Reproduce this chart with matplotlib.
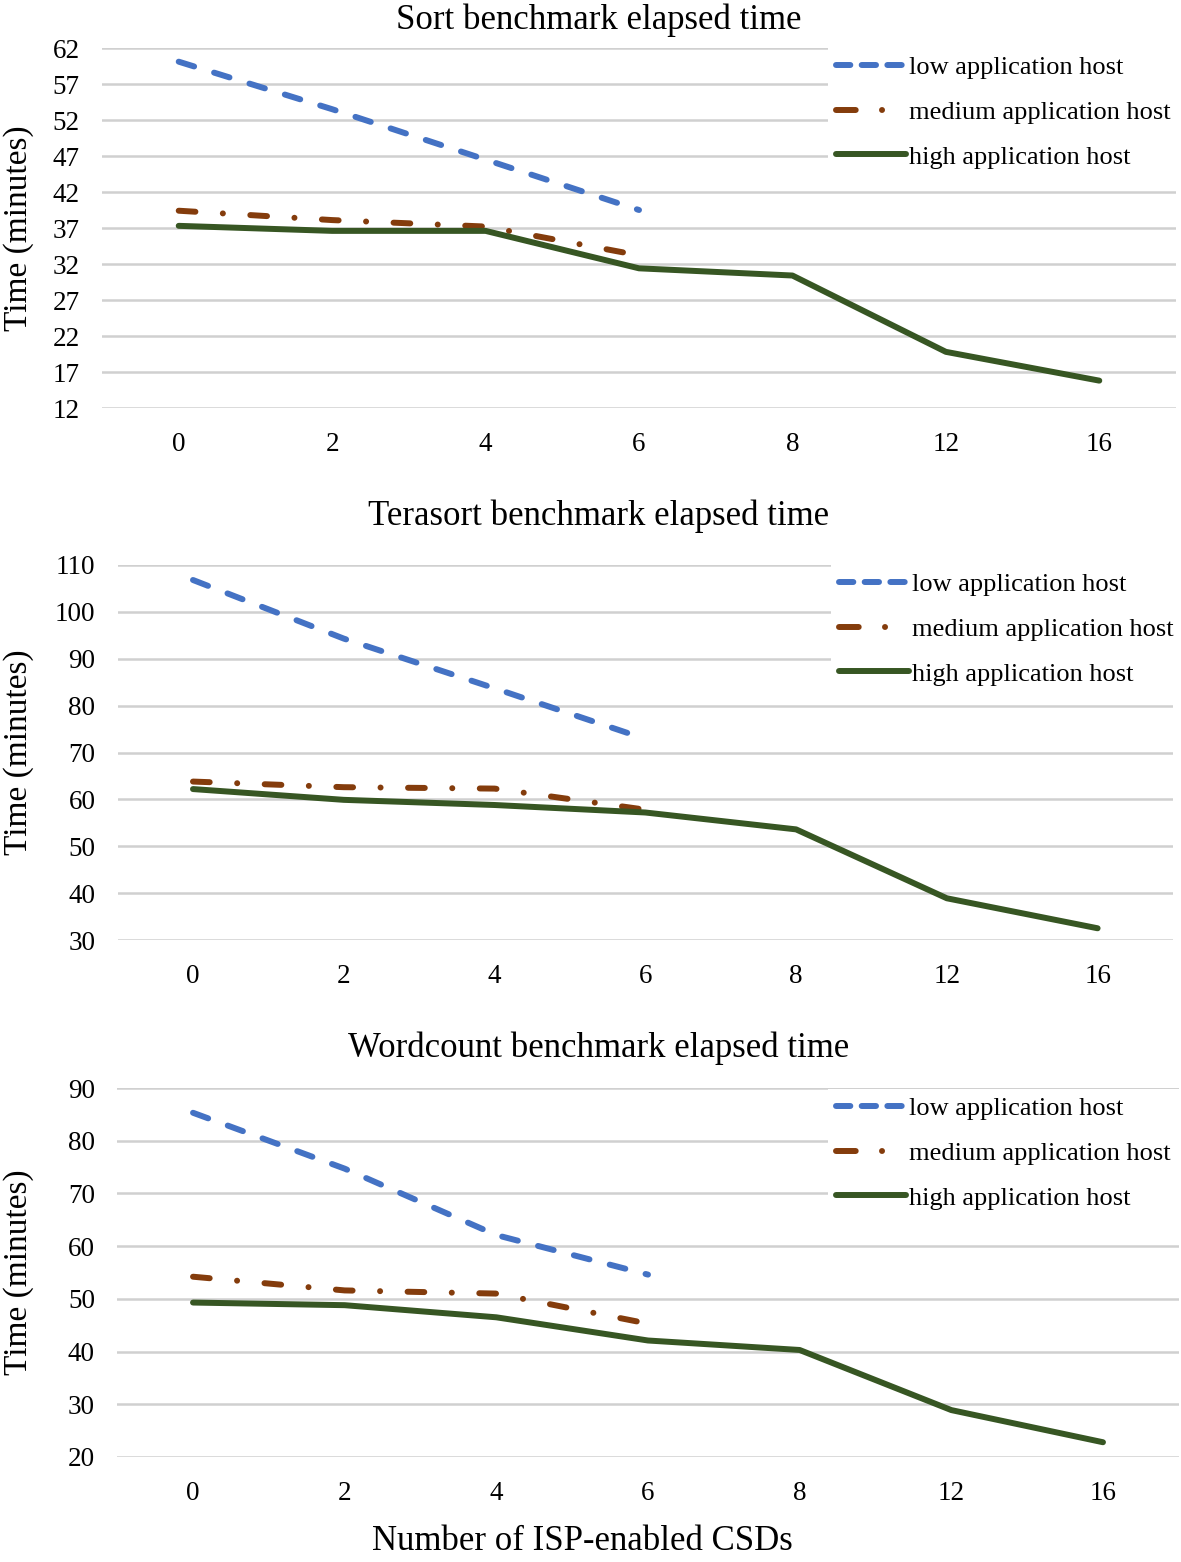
import matplotlib
matplotlib.use("Agg")
import matplotlib.pyplot as plt
from matplotlib.lines import Line2D

# ---------- data ----------
csds = ["0", "2", "4", "6", "8", "12", "16"]

sort_low = [60.1, 53.5, 46.5, 39.5]
sort_medium = [39.4, 38.1, 37.2, 33.2]
sort_high = [37.3, 36.6, 36.6, 31.4, 30.4, 19.8, 15.8]

tera_low = [106.8, 94.3, 83.7, 72.9]
tera_medium = [63.8, 62.6, 62.3, 57.8]
tera_high = [62.2, 59.9, 58.8, 57.2, 53.6, 38.9, 32.5]

word_low = [85.3, 74.7, 62.1, 54.6]
word_medium = [54.2, 51.6, 51.0, 45.3]
word_high = [49.3, 48.8, 46.5, 42.1, 40.3, 28.9, 22.8]

series_labels = ["low application host", "medium application host", "high application host"]

# ---------- style ----------
FONT = "Liberation Serif"
plt.rcParams["font.family"] = [FONT, "DejaVu Serif"]
C_LOW = "#4472C4"
C_MED = "#843C0C"
C_HIGH = "#375623"
GRID = "#D0D0D0"
LW = 4.3

LOW_DASH = (2.7, 3.5)
MED_DASH = (2.8, 4.6, 0.01, 4.6)

W, H = 1181, 1562
fig = plt.figure(figsize=(W / 100, H / 100), dpi=100)


def px_axes(left, right, top, bottom):
    return fig.add_axes([left / W, 1 - bottom / H, (right - left) / W, (bottom - top) / H])


# legend proxies (Excel draws legend keys with a shorter pattern)
leg_handles = [
    Line2D([], [], color=C_LOW, lw=LW, dashes=(2.4, 1.9), dash_capstyle="round"),
    Line2D([], [], color=C_MED, lw=LW, dashes=(3.3, 4.4, 0.01, 5.0), dash_capstyle="round"),
    Line2D([], [], color=C_HIGH, lw=LW, solid_capstyle="round"),
]

panels = [
    # title, axes box (px), ylim, yticks, data, title y, legend anchor (axes frac)
    ("Sort benchmark elapsed time", (102, 1176, 48, 408), (12, 62), list(range(12, 63, 5)),
     (sort_low, sort_medium, sort_high), 20, (0.676, 1.0)),
    ("Terasort benchmark elapsed time", (117.6, 1173, 565, 940), (30, 110), list(range(30, 111, 10)),
     (tera_low, tera_medium, tera_high), 516, (0.676, 1.0)),
    ("Wordcount benchmark elapsed time", (117.2, 1178.8, 1088, 1457), (20, 90), list(range(20, 91, 10)),
     (word_low, word_medium, word_high), 1048, (0.670, 0.997)),
]

for title, box, ylim, yticks, (lo, me, hi), title_y, anchor in panels:
    ax = px_axes(*box)
    ax.set_xlim(-0.5, len(csds) - 0.5)
    ax.set_ylim(*ylim)
    ax.set_yticks(yticks)
    ax.set_xticks(range(len(csds)))
    ax.set_xticklabels(csds)
    for s in ax.spines.values():
        s.set_visible(False)
    ax.tick_params(length=0, labelsize=19.5)
    ax.tick_params(axis="y", pad=16)
    ax.tick_params(axis="x", pad=17)
    ax.yaxis.grid(True, color=GRID, lw=1.8)
    ax.set_axisbelow(True)

    ax.plot(range(len(lo)), lo, color=C_LOW, lw=LW, dashes=LOW_DASH,
            dash_capstyle="round")
    ax.plot(range(len(me)), me, color=C_MED, lw=LW, dashes=MED_DASH,
            dash_capstyle="round")
    ax.plot(range(len(hi)), hi, color=C_HIGH, lw=LW, solid_capstyle="round",
            solid_joinstyle="round")

    ax.legend(leg_handles, series_labels, loc="upper left", bbox_to_anchor=anchor,
              borderaxespad=0, fontsize=19, frameon=True, facecolor="white",
              edgecolor="none", framealpha=1, handlelength=2.65, handletextpad=0.12,
              labelspacing=0.8, borderpad=0.3, fancybox=False)

    fig.text(599 / W, 1 - title_y / H, title, ha="center", va="center", fontsize=25)
    fig.text(19 / W, 1 - (box[2] + box[3]) / 2 / H, "Time (minutes)", rotation=90,
             ha="center", va="center", fontsize=24)

fig.text(582 / W, 1 - 1541 / H, "Number of ISP-enabled CSDs", ha="center", va="center",
         fontsize=25)

fig.savefig("out.png", dpi=100, facecolor="white")
